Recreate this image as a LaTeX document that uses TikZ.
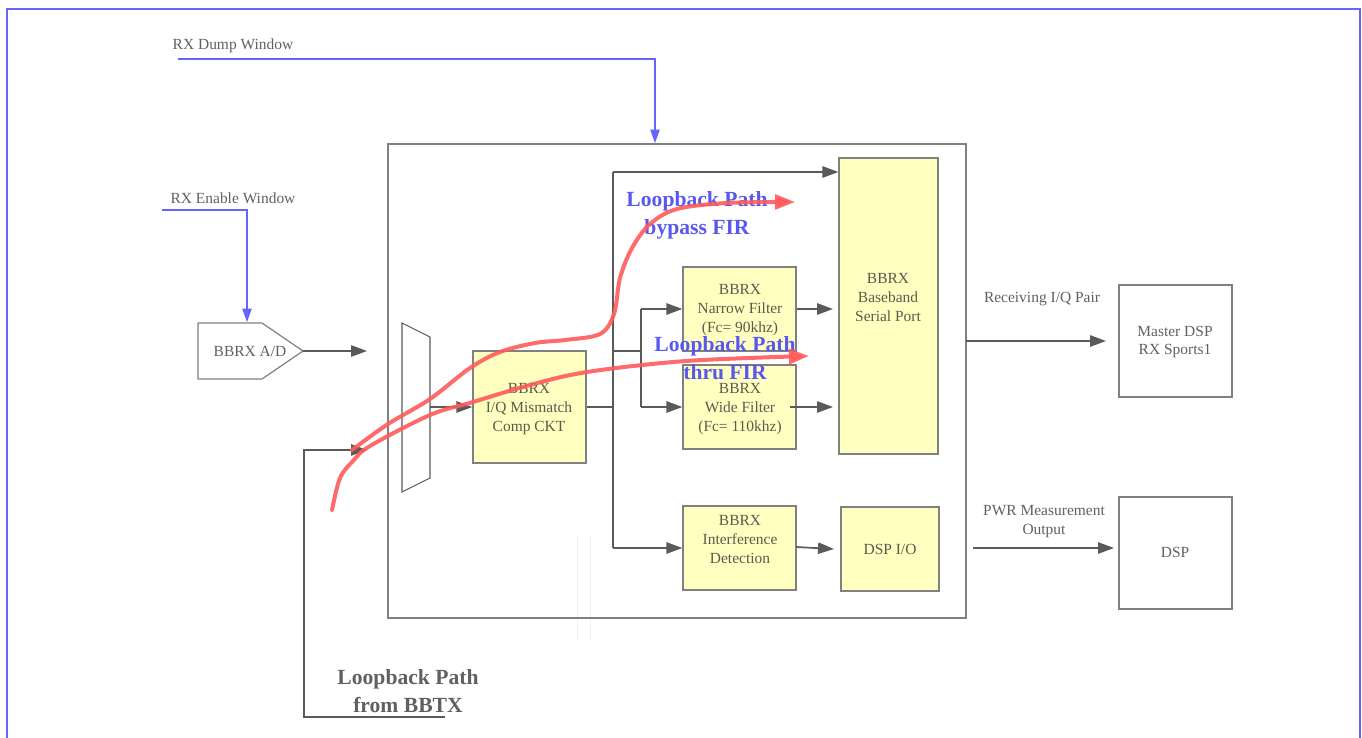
\documentclass[tikz,border=0pt]{standalone}
\usepackage{fontspec}
\setmainfont{Liberation Serif}
\usetikzlibrary{arrows.meta,fit}
\definecolor{txtgray}{HTML}{606060}
\definecolor{linegray}{HTML}{5A5A5A}
\definecolor{boxgray}{HTML}{808080}
\definecolor{boxfill}{HTML}{FFFFC0}
\definecolor{sigblue}{HTML}{6464FF}
\definecolor{lblblue}{HTML}{5858F0}
\definecolor{loopred}{HTML}{FF5A5A}
\definecolor{boxtxt}{HTML}{5A5A50}
\tikzset{
  txt/.style={font=\fontsize{11.6}{14.2}\selectfont, text=txtgray, align=center, inner sep=0pt},
  boxtext/.style={font=\fontsize{11.6}{14.2}\selectfont, text=boxtxt, align=center, inner sep=0pt},
  yellowbox/.style={draw=boxgray, line width=0.9pt, fill=boxfill, inner sep=0pt},
  whitebox/.style={draw=boxgray, line width=0.9pt, inner sep=0pt},
  conn/.style={draw=linegray, line width=1.3pt, -{Triangle[length=12pt,width=8.5pt]}},
  wire/.style={draw=linegray, line width=1.3pt},
  bluesig/.style={draw=sigblue, line width=0.8pt, -{Triangle[length=10pt,width=7pt]}},
  boldlbl/.style={font=\fontsize{16.2}{21}\selectfont\bfseries, align=center, inner sep=0pt},
  redpath/.style={draw=loopred, line width=3pt, opacity=0.9, line cap=round,
    -{Triangle[length=15pt,width=11pt]}},
}
\begin{document}
\begin{tikzpicture}[x=0.75pt,y=-0.75pt]
\useasboundingbox (0,0) rectangle (1362,738);
% outer frame
\draw[draw=sigblue, line width=1.6pt] (7,9) rectangle (1360,760);

% faint guide lines
\draw[gray!12, line width=0.6pt] (577,535) -- (577,640);
\draw[gray!12, line width=0.6pt] (590,535) -- (590,640);

% main box
\node[draw=boxgray, line width=0.9pt, inner sep=0pt, fit={(388,144)(966,618)}] (main) {};

% boxes
\node[yellowbox, fit={(473,351)(586,463)}] (iq) {};
\node[boxtext] (iqtext) at (529,409) {BBRX\\I/Q Mismatch\\Comp CKT};
\node[yellowbox, fit={(683,267)(796,351)}] (narrow) {};
\node[boxtext] (narrowtext) at (740,310.5) {BBRX\\Narrow Filter\\(Fc= 90khz)};
\node[yellowbox, fit={(683,365)(796,449)}] (wide) {};
\node[boxtext] (widetext) at (740,409.5) {BBRX\\Wide Filter\\(Fc= 110khz)};
\node[yellowbox, fit={(839,158)(938,454)}] (bb) {};
\node[boxtext] (bbtext) at (888,297.5) {BBRX\\Baseband\\Serial Port};
\node[yellowbox, fit={(683,506)(796,590)}] (intf) {};
\node[boxtext] (intftext) at (740,539.5) {BBRX\\Interference\\Detection};
\node[yellowbox, fit={(841,507)(939,591)}] (dspio) {};
\node[boxtext] (dspiotext) at (890,549) {DSP I/O};
\node[whitebox, fit={(1119,285)(1232,397)}] (master) {};
\node[txt] (mastertext) at (1175,342) {Master DSP\\RX Sports1};
\node[whitebox, fit={(1119,497)(1232,609)}] (dsp) {};
\node[txt] (dsptext) at (1175,552) {DSP};

% A/D pentagon
\draw[draw=boxgray, line width=0.9pt] (198,323) -- (262,323) -- (303,351) -- (262,379) -- (198,379) -- cycle;
\node[txt] (ad) at (250,351) {BBRX A/D};
\coordinate (adout) at (303,351);
\coordinate (muxin) at (367,351);

% mux trapezoid
\draw[draw=linegray, line width=0.8pt] (402,323) -- (430,337) -- (430,478) -- (402,492) -- cycle;
\coordinate (muxout) at (430,407);

% labels
\node[txt] (dumplbl) at (233,46) {RX Dump Window};
\node[txt] (enlbl) at (233,198) {RX Enable Window};
\node[txt] (iqlbl) at (1042,299) {Receiving I/Q Pair};
\node[txt] (pwrlbl) at (1044,522) {PWR Measurement\\Output};

% blue control signals
\coordinate (dump0) at (178,59);
\coordinate (dump1) at (655,59);
\coordinate (dump2) at (655,143);
\draw[bluesig] (dump0) -- (dump1) -- (dump2);
\coordinate (en0) at (162,210);
\coordinate (en1) at (247,210);
\coordinate (en2) at (247,322);
\draw[bluesig] (en0) -- (en1) -- (en2);

% gray connectors
\draw[conn] (adout) -- (muxin);
\draw[conn] (muxout) -- (iq.west);
\coordinate (busT) at (613,172);
\coordinate (busB) at (613,548);
\coordinate (busM) at (613,407);
\coordinate (busJ) at (613,351);
\draw[wire] (iq.east) -- (busM);
\draw[wire] (busT) -- (busB);
\draw[conn] (busT) -- (bb.west |- busT);
\draw[conn] (busB) -- (intf.west |- busB);
\coordinate (br0) at (641,351);
\coordinate (brT) at (641,309);
\coordinate (brB) at (641,407);
\draw[wire] (busJ) -- (br0);
\draw[wire] (brT) -- (brB);
\draw[conn] (brT) -- (narrow.west |- brT);
\draw[conn] (brB) -- (wide.west |- brB);
\coordinate (nEnd) at (833,309);
\coordinate (wStart) at (790,407);
\coordinate (wEnd) at (833,407);
\draw[conn] (narrow.east |- nEnd) -- (nEnd);
\draw[conn] (wStart) -- (wEnd);
\coordinate (iStart) at (796,547);
\coordinate (iEnd) at (834,549);
\draw[conn] (iStart) -- (iEnd);
\coordinate (rxStart) at (966,341);
\coordinate (rxEnd) at (1106,341);
\draw[conn] (rxStart) -- (rxEnd);
\coordinate (pwStart) at (973,548);
\coordinate (pwEnd) at (1114,548);
\draw[conn] (pwStart) -- (pwEnd);

% loopback from BBTX
\coordinate (lb0) at (445,717);
\coordinate (lb1) at (304,717);
\coordinate (lb2) at (304,450);
\coordinate (lb3) at (367,450);
\draw[conn] (lb0) -- (lb1) -- (lb2) -- (lb3);
\node[boldlbl, text=txtgray] (lbtx) at (408,691.5) {Loopback Path\\from BBTX};

% blue bold labels
\node[boldlbl, text=lblblue] (bypasslbl) at (697,215) {Loopback Path\\bypass FIR};
\node[boldlbl, text=lblblue] (thrulbl) at (725,358) {Loopback Path\\thru FIR};

% red loopback paths
\draw[redpath] plot[smooth, tension=0.55] coordinates {
  (352,450) (388,424) (430,399) (470,368) (500,352) (535,343) (565,340) (600,334)
  (614,314) (620,278) (632,248) (650,224) (677,209) (727,203) (795,202)};
\draw[redpath] plot[smooth, tension=0.55] coordinates {
  (332,510) (340,478) (353,461) (370,446) (430,415) (473,402) (530,385) (587,372)
  (686,361) (809,356)};
\end{tikzpicture}
\end{document}
